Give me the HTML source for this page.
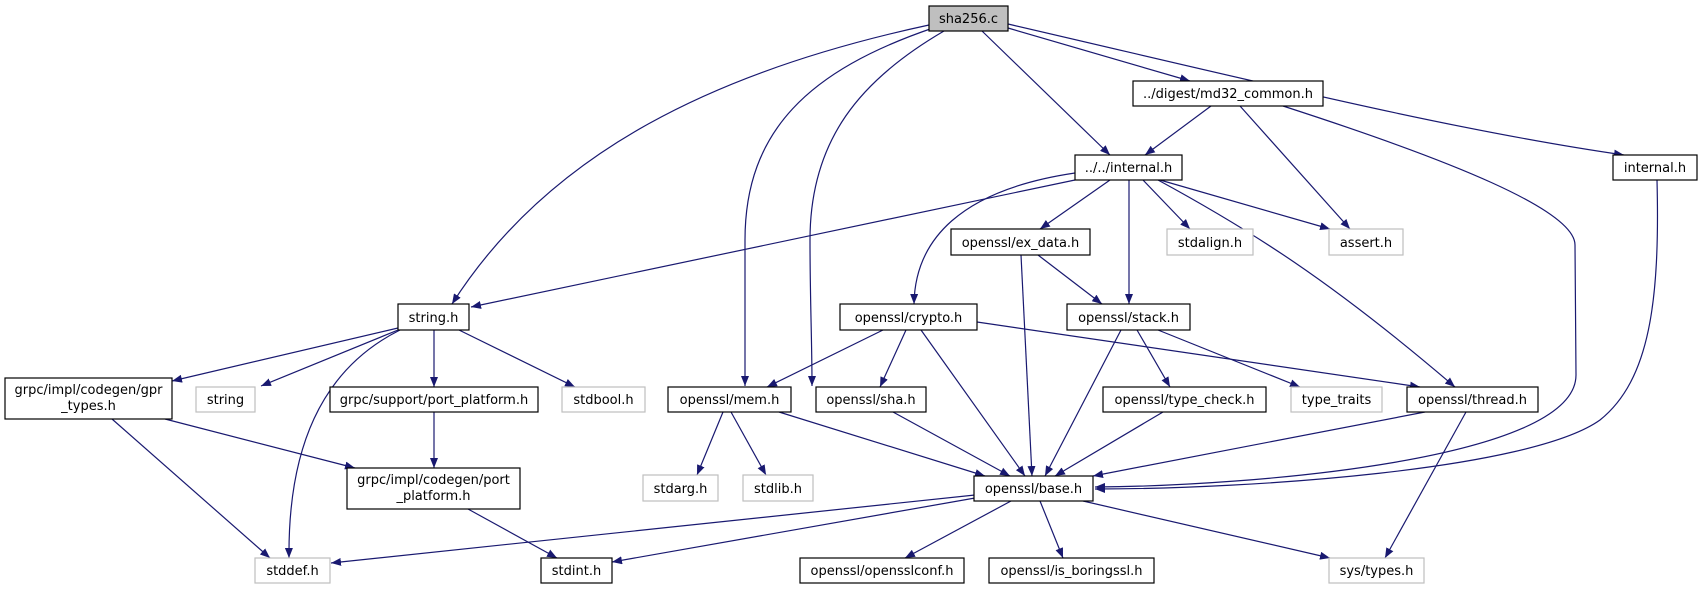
<!DOCTYPE html>
<html><head><meta charset="utf-8"><style>
html,body{margin:0;padding:0;background:#fff;}
svg{display:block;}
text{font-family:"DejaVu Sans","Liberation Sans",sans-serif;font-size:13px;fill:#000;}
.b{fill:#fff;stroke:#000;stroke-width:1.2;}
.g{fill:#fff;stroke:#bfbfbf;stroke-width:1.2;}
.e{fill:none;stroke:#191970;stroke-width:1.2;}
</style></head><body>
<svg width="1703" height="589" viewBox="0 0 1703 589" xmlns="http://www.w3.org/2000/svg">
<defs><marker id="a" viewBox="0 0 10 8" refX="10" refY="4" markerWidth="10" markerHeight="8" markerUnits="userSpaceOnUse" orient="auto"><path d="M0,0 L10,4 L0,8 z" fill="#191970"/></marker></defs>
<g class="e" marker-end="url(#a)">
<path d="M929,25 C720,70 550,150 452,304"/>
<path d="M933,28 C810,70 745,130 745,240 L745,386"/>
<path d="M944,31 C860,80 810,140 810,240 C810,300 812,340 812,386"/>
<path d="M982,31 L1110,155"/>
<path d="M1008,28 L1190,81"/>
<path d="M1008,24 C1250,80 1450,130 1624,155"/>
<path d="M1211,106 L1145,155"/>
<path d="M1240,106 L1350,229"/>
<path d="M1283,106 C1450,160 1575,210 1575,245 L1576,375 C1576,460 1250,486 1095,487"/>
<path d="M1657,180 C1660,300 1650,380 1600,420 C1530,470 1250,489 1095,489"/>
<path d="M1075,180 L471,307"/>
<path d="M1075,173 C960,190 915,240 914,304"/>
<path d="M1110,180 L1040,229"/>
<path d="M1129,180 L1129,304"/>
<path d="M1143,180 L1190,229"/>
<path d="M1160,180 L1330,229"/>
<path d="M1158,180 C1250,230 1330,280 1455,387"/>
<path d="M1038,255 L1102,304"/>
<path d="M1021,255 L1032,476"/>
<path d="M398,328 L172,381"/>
<path d="M398,330 L261,386"/>
<path d="M434,330 L434,387"/>
<path d="M459,330 L575,387"/>
<path d="M400,330 C320,370 288,450 289,558"/>
<path d="M165,419 L355,468"/>
<path d="M112,419 L270,558"/>
<path d="M434,412 L434,468"/>
<path d="M468,509 L557,558"/>
<path d="M883,330 L767,387"/>
<path d="M906,330 L880,387"/>
<path d="M921,330 L1025,476"/>
<path d="M977,322 L1420,387"/>
<path d="M1121,330 L1045,476"/>
<path d="M1137,330 L1170,387"/>
<path d="M1158,330 L1300,387"/>
<path d="M723,412 L697,475"/>
<path d="M731,412 L766,475"/>
<path d="M779,412 L985,476"/>
<path d="M893,412 L1010,476"/>
<path d="M1163,412 L1055,476"/>
<path d="M1425,412 L1093,476"/>
<path d="M1466,412 L1385,558"/>
<path d="M975,495 L331,563"/>
<path d="M975,498 L612,562"/>
<path d="M1011,501 L905,558"/>
<path d="M1040,501 L1063,558"/>
<path d="M1083,501 L1330,558"/>
</g>
<rect x="929" y="6" width="79" height="25" fill="#bfbfbf" stroke="#000" stroke-width="1.2"/><text x="968.5" y="23" text-anchor="middle">sha256.c</text>
<rect class="b" x="1133" y="81" width="190" height="25"/><text x="1228" y="98" text-anchor="middle">../digest/md32_common.h</text>
<rect class="b" x="1075" y="155" width="107" height="25"/><text x="1128.5" y="172" text-anchor="middle">../../internal.h</text>
<rect class="b" x="1613" y="155" width="84" height="25"/><text x="1655" y="172" text-anchor="middle">internal.h</text>
<rect class="b" x="951" y="229" width="139" height="26"/><text x="1020.5" y="247" text-anchor="middle">openssl/ex_data.h</text>
<rect class="g" x="1167" y="229" width="86" height="26"/><text x="1210" y="247" text-anchor="middle">stdalign.h</text>
<rect class="g" x="1329" y="229" width="74" height="26"/><text x="1366" y="247" text-anchor="middle">assert.h</text>
<rect class="b" x="398" y="304" width="71" height="26"/><text x="433.5" y="322" text-anchor="middle">string.h</text>
<rect class="b" x="840" y="304" width="137" height="26"/><text x="908.5" y="322" text-anchor="middle">openssl/crypto.h</text>
<rect class="b" x="1067" y="304" width="123" height="26"/><text x="1128.5" y="322" text-anchor="middle">openssl/stack.h</text>
<rect class="b" x="5" y="378" width="167" height="41"/><text x="88.5" y="394" text-anchor="middle">grpc/impl/codegen/gpr</text><text x="88.5" y="410" text-anchor="middle">_types.h</text>
<rect class="g" x="196" y="387" width="59" height="25"/><text x="225.5" y="404" text-anchor="middle">string</text>
<rect class="b" x="330" y="387" width="208" height="25"/><text x="434" y="404" text-anchor="middle">grpc/support/port_platform.h</text>
<rect class="g" x="562" y="387" width="83" height="25"/><text x="603.5" y="404" text-anchor="middle">stdbool.h</text>
<rect class="b" x="668" y="387" width="123" height="25"/><text x="729.5" y="404" text-anchor="middle">openssl/mem.h</text>
<rect class="b" x="816" y="387" width="110" height="25"/><text x="871" y="404" text-anchor="middle">openssl/sha.h</text>
<rect class="b" x="1103" y="387" width="163" height="25"/><text x="1184.5" y="404" text-anchor="middle">openssl/type_check.h</text>
<rect class="g" x="1291" y="387" width="91" height="25"/><text x="1336.5" y="404" text-anchor="middle">type_traits</text>
<rect class="b" x="1407" y="387" width="131" height="25"/><text x="1472.5" y="404" text-anchor="middle">openssl/thread.h</text>
<rect class="b" x="347" y="468" width="173" height="41"/><text x="433.5" y="484" text-anchor="middle">grpc/impl/codegen/port</text><text x="433.5" y="500" text-anchor="middle">_platform.h</text>
<rect class="g" x="643" y="475" width="75" height="26"/><text x="680.5" y="493" text-anchor="middle">stdarg.h</text>
<rect class="g" x="743" y="475" width="70" height="26"/><text x="778" y="493" text-anchor="middle">stdlib.h</text>
<rect class="b" x="974" y="476" width="119" height="25"/><text x="1033.5" y="493" text-anchor="middle">openssl/base.h</text>
<rect class="g" x="255" y="558" width="75" height="25"/><text x="292.5" y="575" text-anchor="middle">stddef.h</text>
<rect class="b" x="541" y="558" width="71" height="25"/><text x="576.5" y="575" text-anchor="middle">stdint.h</text>
<rect class="b" x="800" y="558" width="164" height="25"/><text x="882" y="575" text-anchor="middle">openssl/opensslconf.h</text>
<rect class="b" x="989" y="558" width="165" height="25"/><text x="1071.5" y="575" text-anchor="middle">openssl/is_boringssl.h</text>
<rect class="g" x="1329" y="558" width="95" height="25"/><text x="1376.5" y="575" text-anchor="middle">sys/types.h</text>
</svg>
</body></html>
